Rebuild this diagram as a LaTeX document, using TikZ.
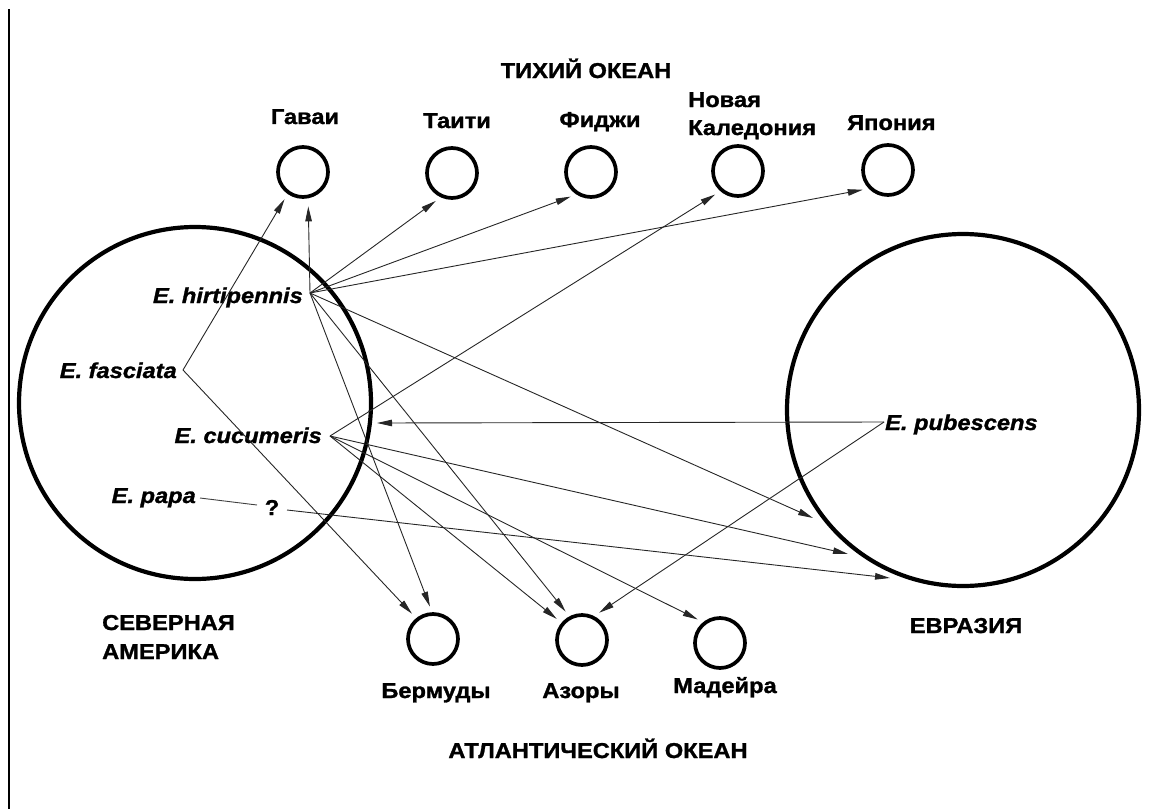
\documentclass[tikz,border=0pt]{standalone}
\usepackage{fontspec}
\setmainfont{Liberation Sans}[FakeStretch=1.1, BoldFeatures={FakeBold=1.3}, BoldItalicFeatures={FakeBold=1.3}]
\usetikzlibrary{arrows.meta}
\begin{document}
\begin{tikzpicture}[x=1pt,y=-1pt,
  lab/.style={font=\fontsize{21.5}{24}\selectfont\bfseries, inner sep=0pt},
  sp/.style={font=\fontsize{21.5}{24}\selectfont\bfseries\itshape, inner sep=0pt},
  isl/.style={circle, draw, line width=3.7pt, minimum size=50pt, inner sep=0pt},
  cont/.style={circle, draw, line width=4.2pt, minimum size=352pt, inner sep=0pt},
  arr/.style={draw=black!85, line width=0.9pt, -{Triangle[length=15pt,width=6.5pt]}, shorten >=6pt},
  arz/.style={arr, shorten >=0pt},
  ln/.style={draw=black!75, line width=0.9pt}]
\useasboundingbox (0,0) rectangle (1149,809);
\coordinate (edgeT) at (9,9);
\coordinate (edgeB) at (9,809);
\draw[line width=1.5pt] (edgeT) -- (edgeB);

% continents
\node[cont] (nam) at (195,403) {};
\node[cont] (eur) at (963,410) {};

% islands
\node[isl] (gav) at (303,172) {};
\node[isl] (tai) at (452,173) {};
\node[isl] (fij) at (591,172) {};
\node[isl] (nc)  at (738,171) {};
\node[isl] (jap) at (888,170) {};
\node[isl] (ber) at (433,639) {};
\node[isl] (azo) at (582,640) {};
\node[isl] (mad) at (720,643) {};

% labels
\node[lab, anchor=base] (tihiy) at (586,78) {ТИХИЙ ОКЕАН};
\node[lab, anchor=base] (lgav) at (305,124) {Гаваи};
\node[lab, anchor=base] (ltai) at (457,128) {Таити};
\node[lab, anchor=base] (lfij) at (600,127) {Фиджи};
\node[lab, anchor=base west] (lnc1) at (688,107) {Новая};
\node[lab, anchor=base west] (lnc2) at (688,135) {Каледония};
\node[lab, anchor=base west] (ljap) at (847,130) {Япония};
\node[lab, anchor=base west] (lsev) at (102,630) {СЕВЕРНАЯ};
\node[lab, anchor=base west] (lame) at (102,659) {АМЕРИКА};
\node[lab, anchor=base] (levr) at (966,633) {ЕВРАЗИЯ};
\node[lab, anchor=base] (lber) at (436,698) {Бермуды};
\node[lab, anchor=base] (lazo) at (581,698) {Азоры};
\node[lab, anchor=base] (lmad) at (725,693) {Мадейра};
\node[lab, anchor=base] (latl) at (598,758) {АТЛАНТИЧЕСКИЙ ОКЕАН};

% species
\node[sp, anchor=base east] (hirt) at (303,303) {E. hirtipennis};
\node[sp, anchor=base east] (fasc) at (177,378) {E. fasciata};
\node[sp, anchor=base east] (cucu) at (322,443) {E. cucumeris};
\node[sp, anchor=base east] (papa) at (196,503) {E. papa};
\node[lab, anchor=base] (q) at (272,515) {?};
\node[sp, anchor=base west] (pub) at (885,430) {E. pubescens};

% connector end points
\coordinate (H) at (310,293);
\coordinate (F) at (183,370);
\coordinate (C) at (330,436);
\coordinate (P) at (884,422);
\coordinate (p1) at (200,498);
\coordinate (p2) at (257,505);
\coordinate (q1) at (287,510);
\coordinate (ctip) at (377,423);
\coordinate (ea1) at (813,518);
\coordinate (ea2) at (848,554);
\coordinate (ea3) at (890,578);

% E. fasciata
\draw[arr] (F) -- (gav.235);
\draw[arr] (F) -- (ber.129);
% E. hirtipennis
\draw[arr, shorten >=8pt] (H) -- (gav.281);
\draw[arr] (H) -- (tai.245);
\draw[arr] (H) -- (fij.237);
\draw[arr] (H) -- (jap.224);
\draw[arr] (H) -- (ber.92);
\draw[arr] (H) -- (azo.118);
\draw[arz] (H) -- (ea1);
% E. cucumeris
\draw[arr] (C) -- (nc.229);
\draw[arz] (C) -- (ea2);
\draw[arr] (C) -- (azo.140);
\draw[arr] (C) -- (mad.129);
% E. papa
\draw[ln] (p1) -- (p2);
\draw[arz] (q1) -- (ea3);
% E. pubescens
\draw[arz] (P) -- (ctip);
\draw[arr] (P) -- (azo.63);
\end{tikzpicture}
\end{document}
